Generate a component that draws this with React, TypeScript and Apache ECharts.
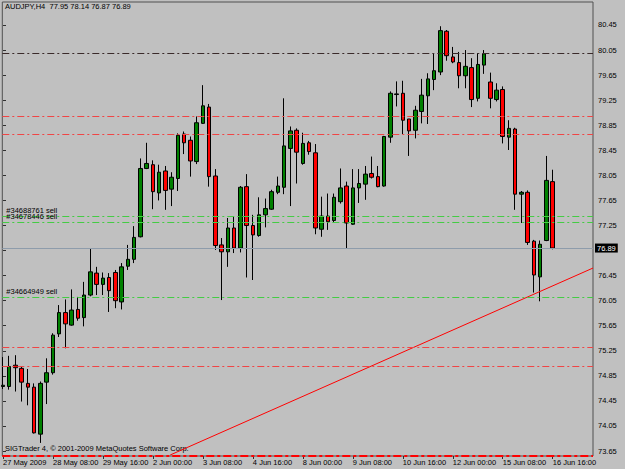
import React, { useEffect, useRef } from "react";
import * as echarts from "echarts";

// ---- data ----
const symbolName = "AUDJPY,H4";
const lastQuote = [77.95, 78.14, 76.87, 76.89];
const copyright = "SIGTrader 4, © 2001-2009 MetaQuotes Software Corp.";

const tickLabels = [
  "27 May 2009", "28 May 08:00", "29 May 16:00", "2 Jun 00:00", "3 Jun 08:00", "4 Jun 16:00",
  "8 Jun 00:00", "9 Jun 08:00", "10 Jun 16:00", "12 Jun 00:00", "15 Jun 08:00", "16 Jun 16:00",
];
const barsPerTick = 8;

const opens = [
  74.68, 74.68, 75.02, 74.97, 74.73, 74.67, 73.92, 74.75, 74.90, 75.52,
  75.86, 75.66, 75.91, 75.78, 76.14, 76.49, 76.31, 76.42, 76.50, 76.03,
  76.60, 76.71, 77.07, 78.16, 78.22, 77.77, 78.12, 77.83, 78.00, 78.71,
  78.61, 78.27, 78.88, 79.14, 78.04, 76.94, 76.83, 77.21, 76.89, 77.87,
  77.25, 77.09, 77.42, 77.51, 77.78, 77.86, 78.48, 78.77, 78.24, 78.57,
  78.41, 77.19, 77.40, 77.33, 77.63, 77.88, 77.27, 77.85, 77.91, 78.08,
  78.03, 77.88, 78.66, 79.34, 79.36, 78.95, 78.77, 79.07, 79.32, 79.58,
  79.70, 80.35, 79.94, 79.85, 79.64, 79.77, 79.28, 79.81, 79.54, 79.26,
  79.42, 78.66, 78.79, 77.75, 77.78, 77.00, 76.43, 77.01, 77.95,
];
const closes = [
  74.70, 75.00, 74.98, 74.75, 74.67, 73.94, 74.73, 74.90, 75.50, 75.86,
  75.68, 75.90, 75.77, 76.14, 76.51, 76.31, 76.41, 76.21, 76.05, 76.59,
  76.71, 77.06, 78.16, 78.24, 77.79, 78.10, 77.81, 78.02, 78.69, 78.57,
  78.28, 78.89, 79.16, 78.03, 76.93, 76.83, 77.21, 76.89, 77.86, 77.25,
  77.10, 77.42, 77.52, 77.79, 77.88, 78.52, 78.76, 78.42, 78.56, 78.43,
  77.21, 77.40, 77.31, 77.70, 77.85, 77.29, 77.85, 77.92, 78.07, 78.02,
  77.87, 78.67, 79.36, 79.35, 78.93, 78.76, 79.09, 79.33, 79.59, 79.72,
  80.36, 79.96, 79.86, 79.64, 79.79, 79.26, 79.82, 79.99, 79.28, 79.41,
  78.67, 78.80, 77.75, 77.78, 76.98, 76.46, 76.95, 77.97, 76.89,
];
const lows = [
  74.64, 74.63, 74.60, 74.44, 74.38, 73.93, 73.78, 74.40, 74.87, 75.47,
  75.29, 75.65, 75.73, 75.64, 76.12, 76.14, 76.14, 75.87, 75.93, 75.91,
  76.54, 76.65, 77.06, 78.15, 77.51, 77.65, 77.50, 77.56, 77.80, 78.39,
  78.03, 78.23, 78.87, 77.87, 76.86, 76.06, 76.59, 76.81, 76.82, 76.42,
  76.38, 77.07, 77.22, 77.50, 77.75, 77.75, 77.56, 77.92, 78.22, 78.38,
  77.11, 77.07, 77.18, 77.29, 77.60, 76.89, 77.26, 77.61, 77.66, 78.00,
  77.86, 77.87, 78.57, 79.15, 78.71, 78.36, 78.64, 78.88, 78.87, 79.41,
  79.65, 79.88, 79.84, 79.44, 79.44, 79.14, 79.23, 79.67, 79.12, 79.23,
  78.56, 78.455, 77.50, 77.29, 76.94, 76.18, 76.04, 77.00, 76.87,
];
const highs = [
  75.15, 75.17, 75.18, 75.00, 74.96, 74.73, 74.76, 75.13, 75.53, 75.98,
  76.07, 76.23, 76.11, 76.35, 76.88, 76.59, 76.50, 76.49, 76.54, 76.65,
  76.94, 77.24, 78.32, 78.57, 78.29, 78.22, 78.20, 78.10, 78.72, 78.75,
  78.67, 78.99, 79.49, 79.19, 78.15, 77.05, 77.37, 77.39, 77.88, 78.07,
  77.42, 77.70, 77.68, 77.82, 78.03, 79.28, 78.83, 78.80, 78.73, 78.60,
  78.55, 77.71, 77.76, 77.76, 78.16, 77.95, 78.15, 78.15, 78.20, 78.35,
  78.20, 78.68, 79.39, 79.55, 79.56, 78.95, 79.16, 79.59, 79.68, 80.00,
  80.43, 80.37, 80.10, 80.02, 80.05, 79.92, 80.00, 80.05, 79.69, 79.52,
  79.47, 78.93, 78.81, 77.80, 77.81, 77.02, 77.01, 78.36, 78.14,
];

const priceTicks = [
  73.65, 74.05, 74.45, 74.85, 75.25, 75.65, 76.05, 76.45, 76.85,
  77.25, 77.65, 78.05, 78.45, 78.85, 79.25, 79.65, 80.05, 80.45,
];
const orderLevels = [77.40, 77.30, 76.10];
const orderLabels = ["#34688761 sell", "#34678446 sell", "#34664949 sell"];
const stopLevels = [79.00, 78.70, 75.30, 75.00];
const darkLevel = 80.00;
const bottomLevel = 73.58;
const bidPrice = 76.89;
const trendBars = [26.77, 94.45];
const trendPrices = [73.587, 76.571];

const FONT = "'Liberation Sans', Arial, sans-serif";
const DASHDOT = [7, 3, 2, 3];

export default function App() {
  const ref = useRef<HTMLDivElement>(null);

  useEffect(() => {
    if (!ref.current) return;
    const chart = echarts.init(ref.current, null, { renderer: "svg" });

    const candles = opens.map((o, i) => [i, o, closes[i], lows[i], highs[i]]);
    const tickBars = tickLabels.map((_, i) => i * barsPerTick);
    // the price box on the bid line hides the tick label it sits on
    const labelTicks = priceTicks.filter((v) => Math.abs(v - bidPrice) > 0.1);

    const lineData: any[] = [];
    lineData.push({
      yAxis: darkLevel,
      lineStyle: { color: "#3a2a2a", type: DASHDOT, width: 1 },
      label: { show: false },
    });
    stopLevels.forEach((v) =>
      lineData.push({
        yAxis: v,
        lineStyle: { color: "#f04545", type: DASHDOT, width: 1 },
        label: { show: false },
      })
    );
    orderLevels.forEach((v, i) =>
      lineData.push({
        yAxis: v,
        lineStyle: { color: "#44cc44", type: DASHDOT, width: 1 },
        label: {
          show: true,
          position: "insideStartTop",
          distance: [4, 2],
          formatter: orderLabels[i],
          color: "#000",
          fontSize: 7.5,
          fontFamily: FONT,
        },
      })
    );
    lineData.push({
      yAxis: bottomLevel,
      lineStyle: { color: "#ff0000", type: [8, 3, 3, 3], width: 2 },
      label: { show: false },
    });
    lineData.push({
      yAxis: bidPrice,
      lineStyle: { color: "#8e9cab", type: "solid", width: 1 },
      label: {
        show: true,
        position: "end",
        distance: 2,
        formatter: bidPrice.toFixed(2),
        color: "#ffffff",
        backgroundColor: "#000000",
        padding: [1, 2, 0, 2],
        fontSize: 7.5,
        fontFamily: FONT,
      },
    });

    chart.setOption({
      animation: false,
      backgroundColor: "#c0c0c0",
      textStyle: { fontFamily: FONT },
      title: {
        text: `${symbolName}  ${lastQuote.map((v) => v.toFixed(2)).join(" ")}`,
        left: 5,
        top: 2,
        padding: 0,
        textStyle: { fontSize: 7.5, fontWeight: "normal", color: "#000", fontFamily: FONT },
      },
      graphic: [
        {
          type: "text",
          left: 5,
          top: 444,
          style: { text: copyright, fontSize: 7.5, fill: "#000", fontFamily: FONT },
        },
      ],
      grid: {
        left: 2,
        top: 2,
        width: 591,
        height: 454,
        show: true,
        borderColor: "#505050",
        borderWidth: 1,
        backgroundColor: "transparent",
      },
      xAxis: {
        type: "value",
        min: -0.112,
        max: 94.448,
        splitLine: { show: false },
        axisLine: { show: false },
        axisTick: {
          show: true,
          customValues: tickBars,
          length: 3,
          lineStyle: { color: "#303030" },
        },
        axisLabel: {
          customValues: tickBars,
          formatter: (v: number) => tickLabels[Math.round(v / barsPerTick)] ?? "",
          align: "left",
          margin: 2,
          fontSize: 7.5,
          color: "#000",
          fontFamily: FONT,
        },
      },
      yAxis: {
        type: "value",
        position: "right",
        min: 73.571,
        max: 80.817,
        scale: true,
        splitLine: { show: false },
        axisLine: { show: false },
        axisTick: {
          show: true,
          customValues: priceTicks,
          length: 3,
          lineStyle: { color: "#303030" },
        },
        axisLabel: {
          customValues: labelTicks,
          formatter: (v: number) => v.toFixed(2),
          margin: 5,
          fontSize: 7.5,
          color: "#000",
          fontFamily: FONT,
        },
      },
      series: [
        {
          type: "candlestick",
          data: candles,
          barWidth: 4,
          itemStyle: {
            color: "#008000",
            color0: "#ff0000",
            borderColor: "#000000",
            borderColor0: "#000000",
            borderColorDoji: "#000000",
            borderWidth: 1,
          },
          markLine: {
            silent: true,
            symbol: ["none", "none"],
            data: lineData,
          },
        },
        {
          type: "line",
          data: trendBars.map((b, i) => [b, trendPrices[i]]),
          symbol: "none",
          lineStyle: { color: "#ff0000", width: 1 },
          clip: true,
          silent: true,
        },
      ],
    });

    return () => chart.dispose();
  }, []);

  return (
    <div
      ref={ref}
      style={{ position: "fixed", left: 0, top: 0, width: 625, height: 469, background: "#c0c0c0" }}
    />
  );
}
